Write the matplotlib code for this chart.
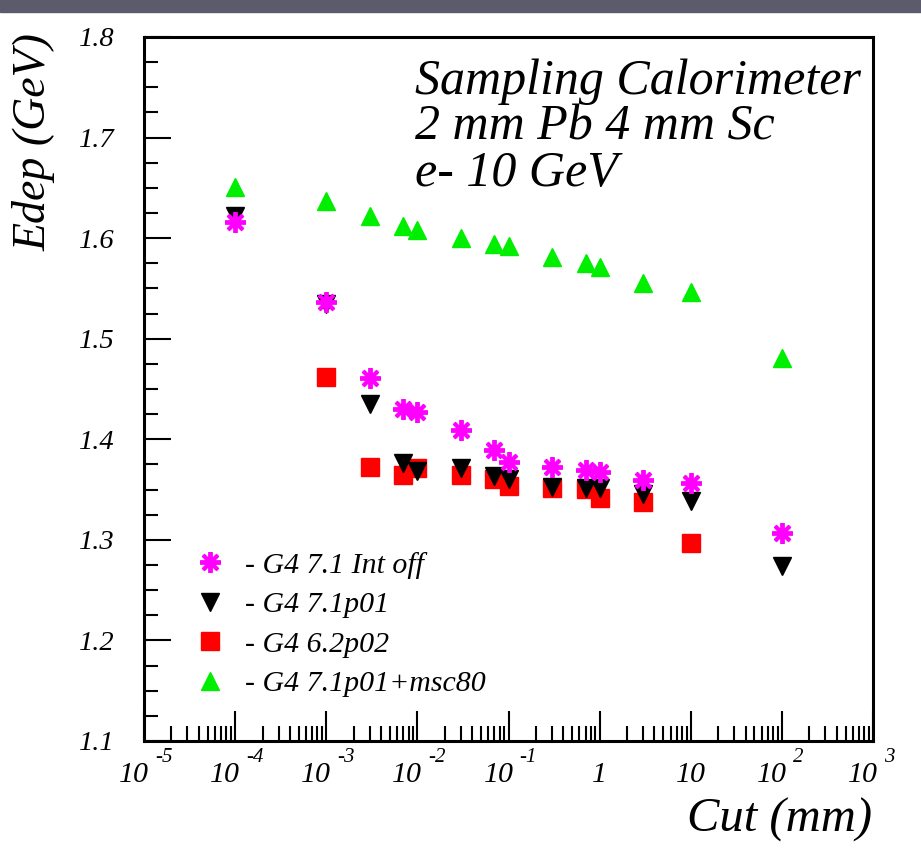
import numpy as np
import matplotlib
matplotlib.use('Agg')
import matplotlib.pyplot as plt
from matplotlib.ticker import FixedLocator, FixedFormatter, MultipleLocator, LogLocator, NullFormatter
from matplotlib.patches import Rectangle

# ---- data ----
cut = [1e-4, 1e-3, 3e-3, 7e-3, 1e-2, 3e-2, 7e-2, 0.1, 0.3, 0.7, 1, 3, 10, 100]
cut_red = [1e-3, 3e-3, 7e-3, 1e-2, 3e-2, 7e-2, 0.1, 0.3, 0.7, 1, 3, 10]

edep_int_off = [1.616, 1.537, 1.461, 1.430, 1.427, 1.409, 1.389, 1.377, 1.372,
                1.369, 1.367, 1.360, 1.357, 1.307]
edep_71p01 = [1.622, 1.535, 1.435, 1.376, 1.368, 1.371, 1.363, 1.361, 1.353,
              1.352, 1.352, 1.346, 1.339, 1.274]
edep_62p02 = [1.462, 1.372, 1.364, 1.371, 1.364, 1.361, 1.354, 1.352, 1.351,
              1.342, 1.338, 1.297]
edep_msc80 = [1.651, 1.637, 1.622, 1.612, 1.608, 1.600, 1.594, 1.592, 1.581,
              1.575, 1.571, 1.555, 1.546, 1.481]

labels = ['- G4 7.1 Int off', '- G4 7.1p01', '- G4 6.2p02', '- G4 7.1p01+msc80']

xticks = [1e-5, 1e-4, 1e-3, 1e-2, 1e-1, 1, 10, 1e2, 1e3]
xtick_base = ['10', '10', '10', '10', '10', '1', '10', '10', '10']
xtick_exp = ['-5', '-4', '-3', '-2', '-1', '', '', '2', '3']
yticks = [1.1, 1.2, 1.3, 1.4, 1.5, 1.6, 1.7, 1.8]
ytick_labels = ['1.1', '1.2', '1.3', '1.4', '1.5', '1.6', '1.7', '1.8']

plt.rcParams['font.family'] = ['Liberation Serif', 'DejaVu Serif']
plt.rcParams['font.style'] = 'italic'

W, H = 921, 857
fig = plt.figure(figsize=(W / 100, H / 100), dpi=100)
ax = fig.add_axes([144 / W, 1 - 741 / H, (873 - 144) / W, (741 - 37) / H])

# dark strip across the top of the image
fig.patches.append(Rectangle((0, 1 - 12 / H), 1, 12 / H, transform=fig.transFigure,
                             color='#5b5b6b', zorder=0))

ax.plot(cut_red, edep_62p02, ls='none', marker='s', ms=13, color='#ff0000',
        mec='#ff0000', label=labels[2], zorder=3)
ax.plot(cut, edep_71p01, ls='none', marker='v', ms=13.5, color='black',
        label=labels[1], zorder=4)
ax.plot(cut, edep_int_off, ls='none', marker=(8, 2, 0), ms=15, mew=2.8,
        color='#ff00ff', label=labels[0], zorder=5)
ax.plot(cut, edep_msc80, ls='none', marker='^', ms=13.5, color='#00ee00',
        mec='#00ee00', label=labels[3], zorder=4)

ax.set_xscale('log')
ax.set_xlim(1e-5, 1e3)
ax.set_ylim(1.1, 1.8)

ax.xaxis.set_major_locator(FixedLocator(xticks))
ax.xaxis.set_major_formatter(NullFormatter())
ax.xaxis.set_minor_locator(LogLocator(base=10, subs=np.arange(2, 10), numticks=30))
ax.xaxis.set_minor_formatter(NullFormatter())
ax.yaxis.set_major_locator(FixedLocator(yticks))
ax.yaxis.set_major_formatter(FixedFormatter(ytick_labels))
ax.yaxis.set_minor_locator(MultipleLocator(0.025))

ax.tick_params(which='both', direction='in', top=False, right=False, width=1.5,
               colors='black')
ax.tick_params(axis='x', which='major', length=21.5)
ax.tick_params(axis='x', which='minor', length=10.8)
ax.tick_params(axis='y', which='major', length=19.4, pad=21, labelsize=20.5)
ax.tick_params(axis='y', which='minor', length=10)
for sp in ax.spines.values():
    sp.set_linewidth(2.2)

# ROOT-style decade labels: base number with a raised exponent
for t, b, e in zip(xticks, xtick_base, xtick_exp):
    if e:
        ax.annotate(b, xy=(t, 0), xycoords=('data', 'axes fraction'),
                    xytext=(-10, -41), textcoords='offset pixels',
                    ha='center', va='baseline', fontsize=21.5, annotation_clip=False)
        ax.annotate(e, xy=(t, 0), xycoords=('data', 'axes fraction'),
                    xytext=(11, -21), textcoords='offset pixels',
                    ha='left', va='baseline', fontsize=15, annotation_clip=False)
    else:
        ax.annotate(b, xy=(t, 0), xycoords=('data', 'axes fraction'),
                    xytext=(0, -41), textcoords='offset pixels',
                    ha='center', va='baseline', fontsize=21.5, annotation_clip=False)

fig.text(34 / W, 1 - 33 / H, 'Edep (GeV)', rotation=90, ha='center', va='top', fontsize=33)
fig.text(872 / W, 1 - 820 / H, 'Cut (mm)', ha='right', va='center', fontsize=35)

info = ['Sampling Calorimeter', '2 mm Pb 4 mm Sc', 'e- 10 GeV']
for i, line in enumerate(info):
    fig.text(415 / W, 1 - (94 + 46 * i) / H, line, ha='left', va='baseline', fontsize=36)

h, l = ax.get_legend_handles_labels()
order = [2, 1, 0, 3]
ax.legend([h[i] for i in order], [l[i] for i in order], loc='upper left',
          bbox_to_anchor=(0.05, 0.29), frameon=False, fontsize=21.5, numpoints=1,
          handlelength=1.0, handletextpad=0.65, labelspacing=0.42, borderpad=0)

fig.savefig('out.png', dpi=100)
